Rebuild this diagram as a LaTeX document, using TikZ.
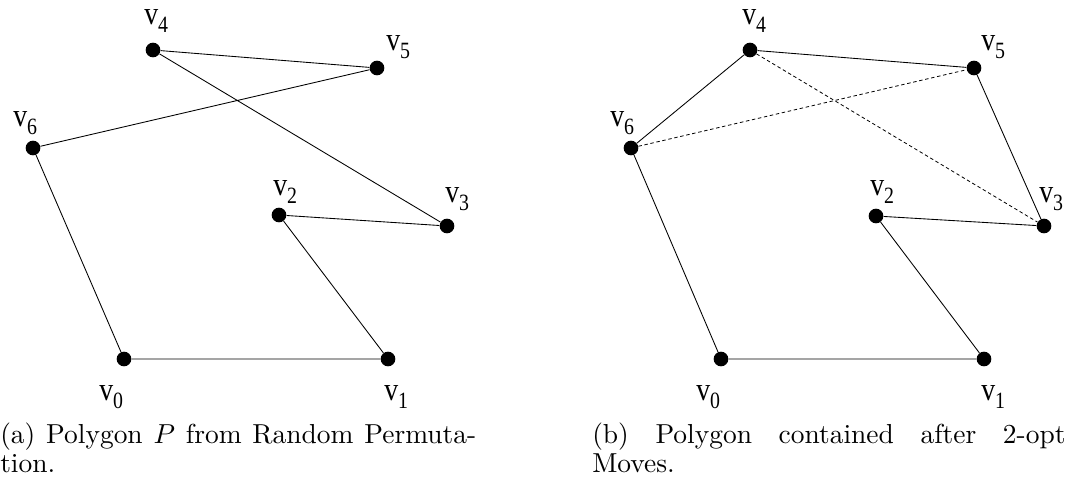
\documentclass[tikz,border=0pt]{standalone}
\usepackage{graphicx}
\usepackage{fontspec}
\newfontfamily\labfont{Liberation Serif}
\newcommand\vlab[1]{\scalebox{0.85}[1]{\labfont\fontsize{24.5}{24.5}\selectfont v\raisebox{-6pt}{\fontsize{17.5}{17.5}\selectfont #1}}}
\begin{document}
\begin{tikzpicture}[x=0.75pt,y=-0.75pt,
  vert/.style={circle,fill=black,inner sep=0pt,minimum size=11pt},
  vlabel/.style={anchor=base west,inner sep=0pt},
  solidline/.style={line width=0.65pt},
  dashline/.style={line width=0.6pt,dash pattern=on 2.6pt off 2pt},
  captext/.style={anchor=base west,inner sep=0pt}]
\useasboundingbox (0,0) rectangle (1070,489);
% ---------- panel (a)
\node[vert] (a0) at (124,359) {};
\node[vert] (a1) at (388,359) {};
\node[vert] (a2) at (279,215) {};
\node[vert] (a3) at (447,226) {};
\node[vert] (a4) at (153,50) {};
\node[vert] (a5) at (377,68) {};
\node[vert] (a6) at (33,148) {};
\draw[solidline] (a0) -- (a1) -- (a2) -- (a3) -- (a4) -- (a5) -- (a6) -- (a0);
\node[vlabel] (la0) at (99,400) {\vlab{0}};
\node[vlabel] (la1) at (384,400) {\vlab{1}};
\node[vlabel] (la2) at (273,195) {\vlab{2}};
\node[vlabel] (la3) at (445,202) {\vlab{3}};
\node[vlabel] (la4) at (144,24) {\vlab{4}};
\node[vlabel] (la5) at (386,50) {\vlab{5}};
\node[vlabel] (la6) at (13,126) {\vlab{6}};
% ---------- panel (b)
\node[vert] (b0) at (721,359) {};
\node[vert] (b1) at (984,359) {};
\node[vert] (b2) at (876,216) {};
\node[vert] (b3) at (1044,226) {};
\node[vert] (b4) at (750,50) {};
\node[vert] (b5) at (974,68) {};
\node[vert] (b6) at (631,148) {};
\draw[solidline] (b0) -- (b1) -- (b2) -- (b3) -- (b5) -- (b4) -- (b6) -- (b0);
\draw[dashline] (b4) -- (b3);
\draw[dashline] (b6) -- (b5);
\node[vlabel] (lb0) at (696,400) {\vlab{0}};
\node[vlabel] (lb1) at (981,400) {\vlab{1}};
\node[vlabel] (lb2) at (870,195) {\vlab{2}};
\node[vlabel] (lb3) at (1039,202) {\vlab{3}};
\node[vlabel] (lb4) at (742,24) {\vlab{4}};
\node[vlabel] (lb5) at (981,50) {\vlab{5}};
\node[vlabel] (lb6) at (610,126) {\vlab{6}};
% ---------- captions
\node[captext] (capa1) at (0,443) {\scalebox{2.06}{\makebox[173.3pt][s]{(a) Polygon $P$ from Random Permuta-}}};
\node[captext] (capa2) at (0,472) {\scalebox{2.06}{tion.}};
\node[captext] (capb1) at (592,443) {\scalebox{2.06}{\makebox[172.3pt][s]{(b) Polygon contained after 2-opt}}};
\node[captext] (capb2) at (592,472) {\scalebox{2.06}{Moves.}};
\end{tikzpicture}
\end{document}
